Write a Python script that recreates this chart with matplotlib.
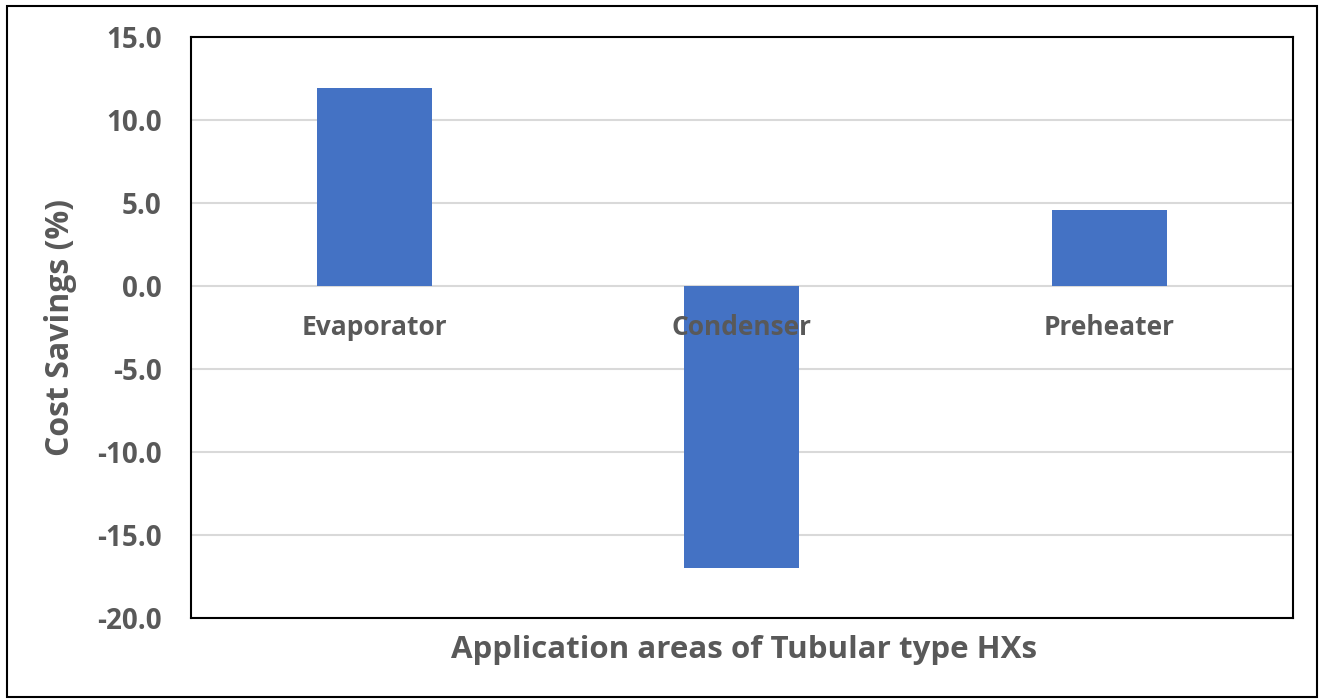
import matplotlib.pyplot as plt
import numpy as np
from matplotlib.patches import Rectangle

#data
categories = ["Evaporator", "Condenser", "Preheater"]
savings = [11.9, -17.0, 4.6]
yticks = [15.0, 10.0, 5.0, 0.0, -5.0, -10.0, -15.0, -20.0]

plt.rcParams['font.family'] = ['Open Sans', 'DejaVu Sans']
grey = "#595959"

fig = plt.figure(figsize=(13.24, 7), dpi=100)
ax = fig.add_axes([190.7/1324, 1 - 618/700, (1293 - 190.7)/1324, (618 - 37)/700])

x = np.arange(len(categories))
ax.bar(x, savings, width=0.313, color="#4472C4", zorder=3)

ax.set_xlim(-0.5, 2.5)
ax.set_ylim(-20, 15)
ax.set_yticks(yticks)
ax.set_yticklabels([f"{v:.1f}" for v in yticks], fontsize=20, fontweight="bold", color=grey)
ax.tick_params(axis="y", length=0, pad=21)
ax.set_xticks([])
ax.grid(axis="y", color="#D9D9D9", linewidth=1.5, zorder=0)
for s in ax.spines.values():
    s.set_color("black")
    s.set_linewidth(1.5)

#category labels sit just under the zero line
for xi, name in zip(x, categories):
    ax.annotate(name, (xi, 0), xytext=(0, -30), textcoords="offset points",
                ha="center", va="center", fontsize=19, fontweight="bold", color=grey, zorder=5)

ax.set_ylabel("Cost Savings (%)", fontsize=23, fontweight="bold", color=grey, labelpad=14)
fig.text(744/1324, 1 - 650/700, "Application areas of Tubular type HXs", ha="center", va="center",
         fontsize=22.5, fontweight="bold", color=grey)

#outer border
fig.patches.append(Rectangle((7/1324, 3/700), 1310/1324, 691/700, transform=fig.transFigure,
                             fill=False, edgecolor="black", linewidth=1.5))

fig.savefig("out.png", dpi=100)
